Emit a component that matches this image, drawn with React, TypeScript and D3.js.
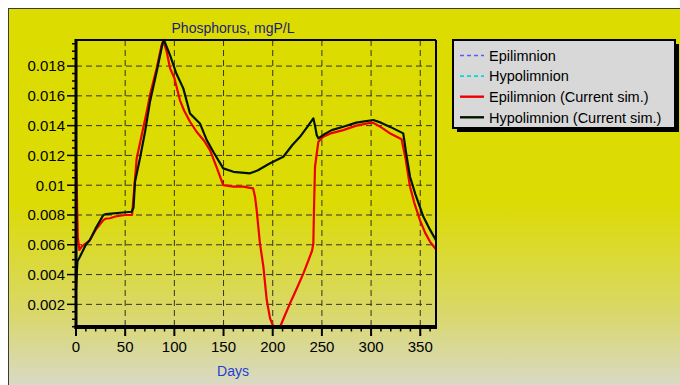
import React from "react";
import * as d3 from "d3";

// ---- data ----
const epiDays = [0, 1, 1.8, 3.5, 6, 10, 14, 20, 27.8, 30, 34.6, 40, 50, 57, 58, 61.7, 66.8, 71.9, 75.2, 82, 87, 88.8, 92.2, 95.6, 100, 105.7, 110, 115.9, 122.6, 130, 136.2, 143, 149.7, 160, 170, 180, 182, 183.7, 187, 190.5, 193.9, 197.3, 200.7, 207.4, 212, 217.6, 224, 231.2, 236, 240, 241.3, 242, 243, 246.4, 251.4, 260, 271.7, 285, 298.9, 302, 310, 320, 331, 335, 339.6, 344, 349.7, 355, 360, 366];
const epiValues = [0.0118, 0.009, 0.0065, 0.00565, 0.0059, 0.0061, 0.0063, 0.007, 0.00766, 0.00775, 0.00778, 0.0079, 0.008, 0.008, 0.0088, 0.0118, 0.01337, 0.01493, 0.01605, 0.01785, 0.0194, 0.01968, 0.01896, 0.01785, 0.0172, 0.0157, 0.015, 0.01426, 0.01359, 0.013, 0.01236, 0.0112, 0.01001, 0.0099, 0.0099, 0.00979, 0.00923, 0.00833, 0.0061, 0.00453, 0.00229, 0.00106, 0.00048, 0.00048, 0.0012, 0.00207, 0.003, 0.00408, 0.0049, 0.0056, 0.0061, 0.0085, 0.01124, 0.01292, 0.01325, 0.0135, 0.0137, 0.014, 0.01419, 0.01419, 0.0139, 0.01345, 0.01308, 0.0118, 0.0099, 0.0088, 0.00766, 0.0068, 0.0062, 0.0057];

const hypoDays = [0, 0.8, 1.5, 4, 7, 10, 14, 20, 27.8, 30.5, 44.7, 56.6, 58.5, 60, 65, 70.2, 75.2, 82, 88, 89.4, 95.6, 102, 109.1, 115.9, 126, 132.9, 140, 149.7, 160, 176.9, 185, 197.3, 210.8, 220, 227.7, 235, 241.3, 243, 244.7, 246.4, 252, 260, 271.7, 285, 302.3, 310, 320, 332.7, 336, 339.6, 345, 353.2, 360, 366];
const hypoValues = [0.003, 0.0042, 0.0049, 0.0052, 0.0056, 0.006, 0.0063, 0.0071, 0.008, 0.00806, 0.00815, 0.00822, 0.0085, 0.01023, 0.0118, 0.01359, 0.0156, 0.01762, 0.01952, 0.01975, 0.01874, 0.0175, 0.0165, 0.01482, 0.01415, 0.01303, 0.0122, 0.01113, 0.0109, 0.0108, 0.011, 0.01147, 0.01191, 0.0127, 0.01325, 0.0139, 0.01449, 0.014, 0.01337, 0.01315, 0.0134, 0.0137, 0.01393, 0.0142, 0.01438, 0.0142, 0.0139, 0.01348, 0.012, 0.01057, 0.0094, 0.00788, 0.007, 0.0063];

const xTicks = [0, 50, 100, 150, 200, 250, 300, 350];
const yTicks = [0.002, 0.004, 0.006, 0.008, 0.01, 0.012, 0.014, 0.016, 0.018];
const yTickLabels = ["0.002", "0.004", "0.006", "0.008", "0.01", "0.012", "0.014", "0.016", "0.018"];

const legendLabels = ["Epilimnion", "Hypolimnion", "Epilimnion (Current sim.)", "Hypolimnion (Current sim.)"];
const legendColors = ["#5a5aff", "#00d8d8", "#ee0000", "#001400"];
const legendDashed = [true, true, false, false];

const FONT = "'Liberation Sans', Arial, sans-serif";

export default function App() {
  const left = 76, right = 436, top = 40, bottom = 327;
  const x = d3.scaleLinear().domain([0, 366]).range([left, right]);
  const allVals = [...epiValues, ...hypoValues];
  const [ymin, ymax] = d3.extent(allVals) as [number, number];
  const y = d3.scaleLinear().domain([ymin, ymax]).range([bottom, top]);

  const line = d3
    .line<[number, number]>()
    .x((d) => x(d[0]))
    .y((d) => y(d[1]));
  const epiPath = line(epiDays.map((d, i) => [d, epiValues[i]]) as [number, number][]) || "";
  const hypoPath = line(hypoDays.map((d, i) => [d, hypoValues[i]]) as [number, number][]) || "";

  const xMinor = d3.range(0, 367, 10).filter((d) => d % 50 !== 0);
  const yMinor = d3.range(0.0005, ymax, 0.0005).filter((v) => v >= ymin && Math.abs(v / 0.002 - Math.round(v / 0.002)) > 1e-6);

  const legX = 453, legY = 40, legW = 222, legH = 88;

  return (
    <div style={{ position: "absolute", left: 0, top: 0 }}>
      <svg width={680} height={385} style={{ display: "block" }} fontFamily={FONT}>
        <defs>
          <linearGradient id="bg" x1="0" y1="0" x2="0" y2="1">
            <stop offset="0" stopColor="#dddc00" />
            <stop offset="0.5" stopColor="#dcdb04" />
            <stop offset="0.78" stopColor="#d9d86a" />
            <stop offset="1" stopColor="#d9d9d6" />
          </linearGradient>
        </defs>
        <rect x={0} y={0} width={680} height={385} fill="#ffffff" />
        <rect x={8.5} y={8.5} width={680} height={390} fill="url(#bg)" stroke="#3a3a3a" strokeWidth={1} />

        {/* grid */}
        {xTicks.filter((t) => t > 0).map((t) => (
          <line key={"gx" + t} x1={x(t)} x2={x(t)} y1={top} y2={bottom} stroke="#33331a" strokeWidth={1} strokeDasharray="6,4" />
        ))}
        {yTicks.map((t) => (
          <line key={"gy" + t} x1={left} x2={right} y1={y(t)} y2={y(t)} stroke="#33331a" strokeWidth={1} strokeDasharray="6,4" />
        ))}

        {/* series */}
        <path d={epiPath} fill="none" stroke="#ee0000" strokeWidth={2.2} strokeLinejoin="round" />
        <path d={hypoPath} fill="none" stroke="#001400" strokeWidth={2.2} strokeLinejoin="round" />

        {/* frame */}
        <line x1={left} x2={right} y1={top} y2={top} stroke="#000" strokeWidth={2} />
        <line x1={right} x2={right} y1={top} y2={bottom} stroke="#000" strokeWidth={2} />
        <line x1={left} x2={left} y1={top - 1} y2={bottom + 2} stroke="#000" strokeWidth={3} />
        <line x1={left - 1.5} x2={right + 1} y1={bottom} y2={bottom} stroke="#000" strokeWidth={4} />

        {/* y ticks */}
        {yMinor.map((v, i) => (
          <line key={"ym" + i} x1={left - 4} x2={left} y1={y(v)} y2={y(v)} stroke="#000" strokeWidth={1.5} />
        ))}
        {yTicks.map((t, i) => (
          <g key={"yt" + t}>
            <line x1={left - 9} x2={left} y1={y(t)} y2={y(t)} stroke="#000" strokeWidth={1.5} />
            <text x={left - 11} y={y(t)} dy="0.36em" textAnchor="end" fontSize={15} fill="#000">
              {yTickLabels[i]}
            </text>
          </g>
        ))}

        {/* x ticks */}
        {xMinor.map((t) => (
          <line key={"xm" + t} x1={x(t)} x2={x(t)} y1={bottom} y2={bottom + 4.5} stroke="#000" strokeWidth={1.5} />
        ))}
        {xTicks.map((t) => (
          <g key={"xt" + t}>
            <line x1={x(t)} x2={x(t)} y1={bottom} y2={bottom + 9} stroke="#000" strokeWidth={2} />
            <text x={x(t)} y={352} textAnchor="middle" fontSize={15} fill="#000">
              {t}
            </text>
          </g>
        ))}

        {/* titles */}
        <text x={233} y={33} textAnchor="middle" fontSize={14} fill="#1c1c78">
          Phosphorus, mgP/L
        </text>
        <text x={233} y={376} textAnchor="middle" fontSize={14} fill="#1f3fd6">
          Days
        </text>

        {/* legend */}
        <rect x={legX + 4} y={legY + 4} width={legW} height={legH} fill="#000" />
        <rect x={legX} y={legY} width={legW} height={legH} fill="#d8d8d8" stroke="#000" strokeWidth={2} />
        {legendLabels.map((lab, i) => {
          const cy = legY + 15.5 + i * 20.6;
          return (
            <g key={lab}>
              <line x1={legX + 7} x2={legX + 31} y1={cy} y2={cy} stroke={legendColors[i]} strokeWidth={legendDashed[i] ? 1.6 : 2.4} strokeDasharray={legendDashed[i] ? "4,3" : undefined} />
              <text x={legX + 36} y={cy} dy="0.36em" fontSize={14.5} fill="#000">
                {lab}
              </text>
            </g>
          );
        })}
      </svg>
    </div>
  );
}
